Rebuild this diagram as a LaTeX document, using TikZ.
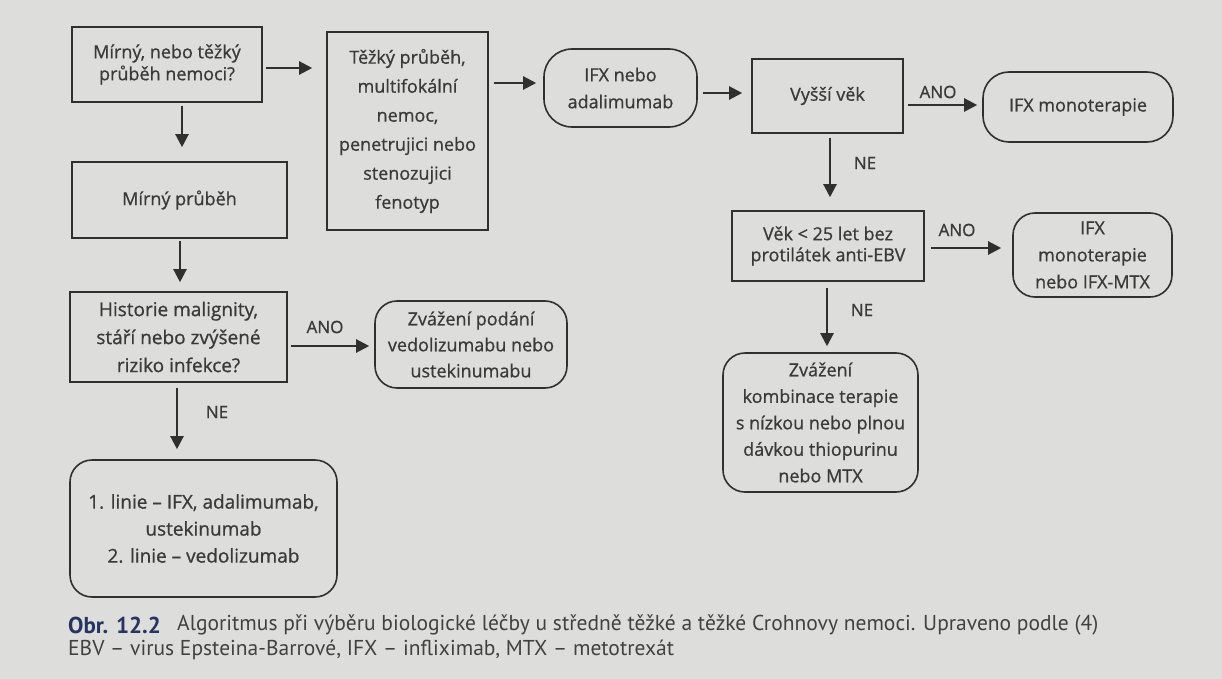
\documentclass[tikz,border=0pt]{standalone}
\usepackage{fontspec}
\setmainfont{Open Sans}[FakeBold=0.8]
\newfontfamily\capfont{PT Sans}[Ligatures=TeX]
\usetikzlibrary{arrows.meta,calc}
\definecolor{bg}{RGB}{221,221,219}
\definecolor{ink}{RGB}{48,48,48}
\definecolor{txt}{RGB}{58,58,58}
\definecolor{capblue}{RGB}{38,52,98}
\begin{document}
\begin{tikzpicture}[x=1pt,y=-1pt,
  box/.style={draw=ink,line width=1.6pt,text=txt,align=center,inner sep=0pt,font=\fontsize{18}{27}\selectfont},
  rbox/.style={box,rounded corners=22pt},
  arr/.style={draw=ink,line width=2.3pt,-{Triangle[length=13pt,width=13pt]}},
  lab/.style={text=txt,inner sep=0pt,font=\fontsize{17}{18}\selectfont},
  captxt/.style={text=ink!92,inner sep=0pt,anchor=west,font=\capfont\fontsize{21.5}{24}\selectfont}]
\fill[bg] (0,0) rectangle (1222,679);
\useasboundingbox (0,0) rectangle (1222,679);
% nodes
\node[box,minimum width=190pt,minimum height=75pt,font=\fontsize{18}{22}\selectfont] (A) at (167,64.5) {Mírný, nebo těžký\\průběh nemoci?};
\node[box,minimum width=161pt,minimum height=198pt,font=\fontsize{18}{29}\selectfont] (B) at (407.5,131) {Těžký průběh,\\multifokální\\nemoc,\\penetrujici nebo\\stenozujici\\fenotyp};
\node[box,minimum width=215pt,minimum height=76pt] (C) at (179.5,200) {Mírný průběh};
\node[box,minimum width=217pt,minimum height=90pt,font=\fontsize{19}{28}\selectfont] (D) at (178.5,337) {Historie malignity,\\stáří nebo zvýšené\\riziko infekce?};
\node[rbox,minimum width=192pt,minimum height=87pt,font=\fontsize{18}{26}\selectfont] (E) at (471,344.5) {Zvážení podání\\vedolizumabu nebo\\ustekinumabu};
\node[rbox,minimum width=267pt,minimum height=137pt,font=\fontsize{19}{27}\selectfont] (F) at (203.5,528.5) {1. linie – IFX, adalimumab,\\ustekinumab\\2. linie – vedolizumab};
\node[rbox,rounded corners=28pt,minimum width=153pt,minimum height=78pt] (G) at (620.5,88) {IFX nebo\\adalimumab};
\node[box,minimum width=151pt,minimum height=74pt] (H) at (827.5,96) {Vyšší věk};
\node[rbox,rounded corners=26pt,minimum width=190pt,minimum height=70pt] (I) at (1078,107) {IFX monoterapie};
\node[box,minimum width=192pt,minimum height=70pt,font=\fontsize{18}{21}\selectfont] (J) at (828,246) {Věk < 25 let bez\\protilátek anti-EBV};
\node[rbox,minimum width=159pt,minimum height=84pt] (K) at (1092.5,255) {IFX\\monoterapie\\nebo IFX-MTX};
\node[rbox,minimum width=195pt,minimum height=139pt,font=\fontsize{18}{26.5}\selectfont] (L) at (820.5,422.5) {Zvážení\\kombinace terapie\\s nízkou nebo plnou\\dávkou thiopurinu\\nebo MTX};
% arrows
\draw[arr,shorten <=3pt,shorten >=14pt] (A.east |- 0,68) -- (B.west |- 0,68);
\draw[arr,shorten <=5pt,shorten >=7pt] (B.east |- 0,83) -- (G.west |- 0,83);
\draw[arr,shorten <=5pt,shorten >=9pt] (G.east |- 0,93) -- (H.west |- 0,93);
\draw[arr,shorten <=4pt,shorten >=5pt] (H.east |- 0,105) -- (I.west |- 0,105);
\draw[arr,shorten <=4pt,shorten >=13pt] (H.south -| 830,0) -- (J.north -| 830,0);
\draw[arr,shorten <=6pt,shorten >=11pt] (J.east |- 0,248) -- (K.west |- 0,248);
\draw[arr,shorten <=6pt,shorten >=6pt] (J.south -| 827,0) -- (L.north -| 827,0);
\draw[arr,shorten <=3pt,shorten >=14pt] (A.south -| 182,0) -- (C.north -| 182,0);
\draw[arr,shorten <=2pt,shorten >=9pt] (C.south -| 180,0) -- (D.north -| 180,0);
\draw[arr,shorten <=3pt,shorten >=5pt] (D.east |- 0,346) -- (E.west |- 0,346);
\draw[arr,shorten <=5pt,shorten >=10pt] (D.south -| 177,0) -- (F.north -| 177,0);
% labels
\node[lab] (l1) at (938,92) {ANO};
\node[lab] (l2) at (865,163) {NE};
\node[lab] (l3) at (957,230) {ANO};
\node[lab] (l4) at (862,310) {NE};
\node[lab] (l5) at (325,327) {ANO};
\node[lab] (l6) at (217,412) {NE};
% caption
\node[captxt,text=capblue,font=\capfont\bfseries\fontsize{23}{24}\selectfont] (cn) at (68,625) {Obr. 12.2};
\node[captxt] (c1) at (177,625) {Algoritmus při výběru biologické léčby u středně těžké a těžké Crohnovy nemoci. Upraveno podle (4)};
\node[captxt] (c2) at (68,650) {EBV – virus Epsteina-Barrové, IFX – infliximab, MTX – metotrexát};
\end{tikzpicture}
\end{document}
